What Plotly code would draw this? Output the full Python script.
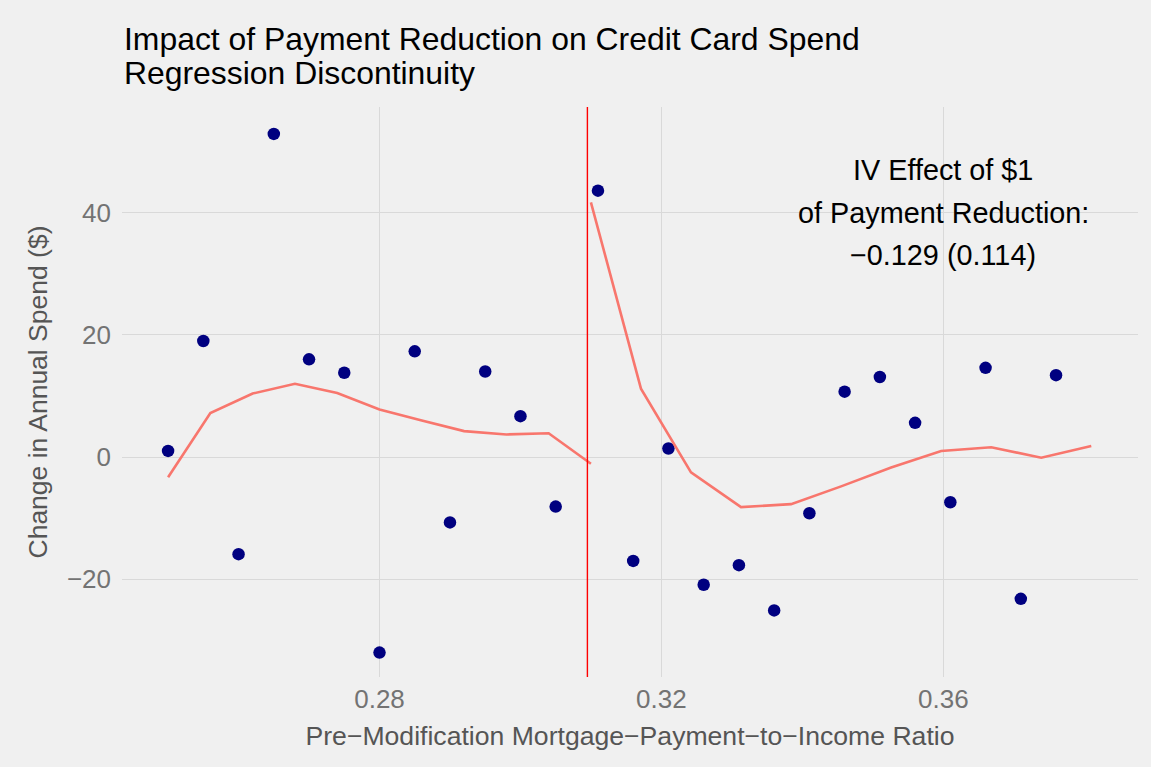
import plotly.graph_objects as go

# ---- data ----
bin_x = [0.250, 0.255, 0.260, 0.265, 0.270, 0.275, 0.280, 0.285, 0.290, 0.295, 0.300, 0.305,
         0.311, 0.316, 0.321, 0.326, 0.331, 0.336, 0.341, 0.346, 0.351, 0.356, 0.361, 0.366,
         0.371, 0.376]
bin_y = [1.0, 19.0, -15.9, 52.9, 16.0, 13.8, -32.0, 17.3, -10.7, 14.0, 6.7, -8.1,
         43.6, -17.0, 1.4, -20.9, -17.7, -25.1, -9.2, 10.7, 13.1, 5.6, -7.4, 14.6,
         -23.2, 13.4]

left_fit_x = [0.250, 0.256, 0.262, 0.268, 0.274, 0.280, 0.286, 0.292, 0.298, 0.304, 0.310]
left_fit_y = [-3.3, 7.2, 10.4, 12.0, 10.5, 7.8, 6.0, 4.25, 3.7, 3.9, -1.1]

right_fit_x = [0.3100, 0.3171, 0.3242, 0.3313, 0.3384, 0.3455, 0.3526, 0.3597, 0.3668, 0.3739, 0.3810]
right_fit_y = [41.7, 11.2, -2.5, -8.2, -7.7, -4.8, -1.7, 1.0, 1.6, -0.1, 1.8]

cutoff = 0.3095

x_ticks = [0.28, 0.32, 0.36]
x_tick_labels = ["0.28", "0.32", "0.36"]
y_ticks = [-20, 0, 20, 40]
y_tick_labels = ["\u221220", "0", "20", "40"]

title_lines = ["Impact of Payment Reduction on Credit Card Spend", "Regression Discontinuity"]
note_lines = ["IV Effect of $1", "of Payment Reduction:", "\u22120.129 (0.114)"]
note_x, note_y = 0.36, 40

# ---- styling ----
FONT = "Liberation Sans, Arial, Helvetica, sans-serif"
BG = "#F0F0F0"
GRID = "#D9D9D9"

fig = go.Figure()

fig.add_trace(go.Scatter(
    x=bin_x, y=bin_y, mode="markers",
    marker=dict(color="#000080", size=12.5, line=dict(width=0)),
    hoverinfo="x+y", showlegend=False))

fig.add_trace(go.Scatter(
    x=left_fit_x, y=left_fit_y, mode="lines",
    line=dict(color="#F8766D", width=2.6), showlegend=False))

fig.add_trace(go.Scatter(
    x=right_fit_x, y=right_fit_y, mode="lines",
    line=dict(color="#F8766D", width=2.6), showlegend=False))

fig.add_shape(type="line", xref="x", yref="paper", x0=cutoff, x1=cutoff, y0=0, y1=1,
              line=dict(color="#FF0000", width=1.4), layer="above")

# title lines (left aligned with the panel)
title_pos = [1.119, 1.060]
for txt, yp in zip(title_lines, title_pos):
    fig.add_annotation(text=txt, xref="paper", yref="paper", x=0, y=yp,
                       xanchor="left", yanchor="middle", showarrow=False,
                       font=dict(family=FONT, size=31.9, color="#000000"))

# IV effect note
for txt, shift in zip(note_lines, [43, 0, -42]):
    fig.add_annotation(text=txt, x=note_x, y=note_y, xref="x", yref="y",
                       xanchor="center", yanchor="middle", yshift=shift,
                       showarrow=False,
                       font=dict(family=FONT, size=28.8, color="#000000"))

fig.update_layout(
    width=1151, height=767,
    paper_bgcolor=BG, plot_bgcolor=BG,
    margin=dict(l=122, r=13, t=107, b=90, autoexpand=False),
    font=dict(family=FONT),
    showlegend=False,
)

fig.update_xaxes(
    range=[0.24346, 0.38763],
    tickvals=x_ticks, ticktext=x_tick_labels,
    showgrid=True, gridcolor=GRID, gridwidth=1.1,
    zeroline=False, showline=False, ticks="",
    ticklabelstandoff=4,
    tickfont=dict(family=FONT, size=26, color="#737373"),
    title=dict(text="Pre\u2212Modification Mortgage\u2212Payment\u2212to\u2212Income Ratio",
               font=dict(family=FONT, size=26.6, color="#555555"), standoff=13),
    automargin=False,
)
fig.update_yaxes(
    range=[-36.0, 57.3],
    tickvals=y_ticks, ticktext=y_tick_labels,
    showgrid=True, gridcolor=GRID, gridwidth=1.1,
    zeroline=False, showline=False, ticks="",
    ticklabelstandoff=10,
    tickfont=dict(family=FONT, size=26, color="#737373"),
    title=dict(text="Change in Annual Spend ($)",
               font=dict(family=FONT, size=26.5, color="#555555"), standoff=11.5),
    automargin=False,
)

fig.write_html("out.html", config={"displayModeBar": False},
               post_script="document.body.style.margin='0';")
